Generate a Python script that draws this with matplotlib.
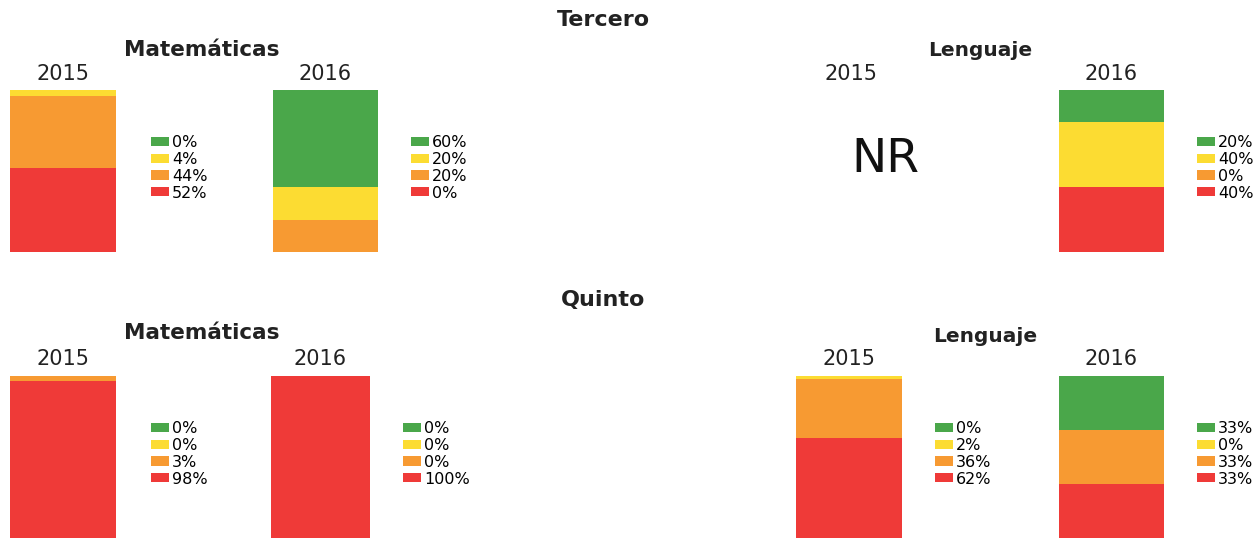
import matplotlib.pyplot as plt
from matplotlib.patches import Patch

plt.rcParams['font.family'] = ['DejaVu Sans']

# niveles (de arriba a abajo en la leyenda)
niveles = ['Adecuado', 'Elemental', 'Insuficiente', 'Bajo']
colores = ['#4aa74a', '#fcdc32', '#f79a32', '#ef3a38']

tercero_mat_2015 = [0, 4, 44, 52]
tercero_mat_2016 = [60, 20, 20, 0]
tercero_len_2015 = None  # NR
tercero_len_2016 = [20, 40, 0, 40]
quinto_mat_2015 = [0, 0, 3, 98]
quinto_mat_2016 = [0, 0, 0, 100]
quinto_len_2015 = [0, 2, 36, 62]
quinto_len_2016 = [33, 0, 33, 33]

W, H = 1258, 540
fig = plt.figure(figsize=(W / 100, H / 100), dpi=100)


def fx(px):
    return px / W


def fy(py):
    return 1 - py / H


def titulo(x, y, s, size=15):
    fig.text(fx(x), fy(y), s, ha='center', va='center',
             fontsize=size, fontweight='bold', color='#222222')


def barra(valores, anio, x0, x1, ytop, ybot, xleg, yleg, ylab):
    fig.text(fx((x0 + x1) / 2), fy(ylab), anio, ha='center', va='center',
             fontsize=15, color='#222222')
    if valores is None:
        fig.text(fx(885), fy(160), 'NR',
                 ha='center', va='center', fontsize=34, color='#111111')
        return
    ax = fig.add_axes([fx(x0), fy(ybot), fx(x1 - x0), (ybot - ytop) / H])
    base = 0
    # apilar de abajo (rojo) hacia arriba (verde)
    for v, c in zip(valores[::-1], colores[::-1]):
        ax.bar(0, v, bottom=base, width=1, color=c, linewidth=0)
        base += v
    ax.set_xlim(-0.5, 0.5)
    ax.set_ylim(0, base)
    ax.axis('off')
    handles = [Patch(facecolor=c, edgecolor='none') for c in colores]
    labels = [f'{v}%' for v in valores]
    fig.legend(handles, labels, loc='upper left',
               bbox_to_anchor=(fx(xleg), fy(yleg)), frameon=False,
               fontsize=11.5, handlelength=1.15, handleheight=0.5,
               handletextpad=0.15, labelspacing=0.115, borderpad=0,
               borderaxespad=0)


# Tercero
titulo(603, 20, 'Tercero', 16)
titulo(202, 50, 'Matemáticas', 15.5)
titulo(980, 50, 'Lenguaje', 14.5)
barra(tercero_mat_2015, '2015', 10, 116, 90, 252, 151, 135, 74)
barra(tercero_mat_2016, '2016', 273, 378, 90, 252, 411, 135, 74)
barra(tercero_len_2015, '2015', 796, 906, 90, 252, 0, 0, 74)
barra(tercero_len_2016, '2016', 1059, 1164, 90, 252, 1197, 135, 74)

# Quinto
titulo(603, 300, 'Quinto', 16)
titulo(202, 333, 'Matemáticas', 15.5)
titulo(985, 337, 'Lenguaje', 14.5)
barra(quinto_mat_2015, '2015', 10, 116, 376, 538, 151, 421, 359)
barra(quinto_mat_2016, '2016', 271, 370, 376, 538, 403, 421, 359)
barra(quinto_len_2015, '2015', 796, 902, 376, 538, 935, 421, 359)
barra(quinto_len_2016, '2016', 1059, 1164, 376, 538, 1197, 421, 359)

fig.savefig('out.png', dpi=100)
